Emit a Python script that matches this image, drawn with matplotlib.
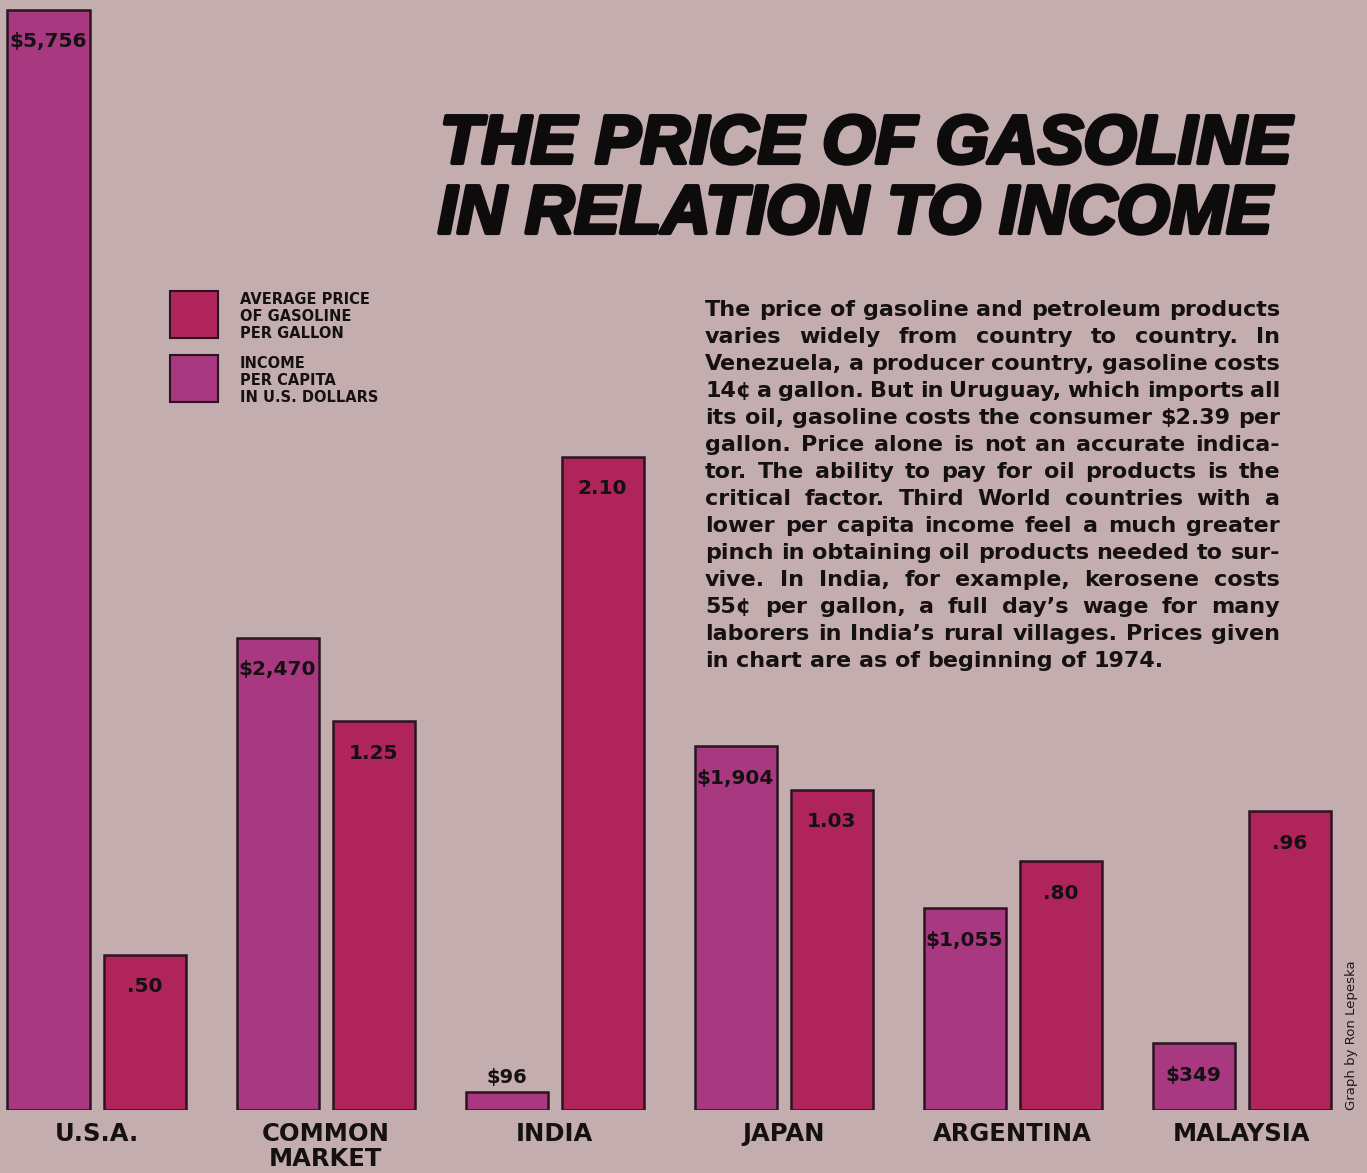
import matplotlib
matplotlib.use('Agg')
import matplotlib.pyplot as plt
import matplotlib.patheffects as pe
from matplotlib.patches import Rectangle

# data
countries = ['U.S.A.', 'COMMON\nMARKET', 'INDIA', 'JAPAN', 'ARGENTINA', 'MALAYSIA']
income = [5756, 2470, 96, 1904, 1055, 349]
income_labels = ['$5,756', '$2,470', '$96', '$1,904', '$1,055', '$349']
price = [0.50, 1.25, 2.10, 1.03, 0.80, 0.96]
price_labels = ['.50', '1.25', '2.10', '1.03', '.80', '.96']

title_lines = ['THE PRICE OF GASOLINE', 'IN RELATION TO INCOME']
legend_price = ['AVERAGE PRICE', 'OF GASOLINE', 'PER GALLON']
legend_income = ['INCOME', 'PER CAPITA', 'IN U.S. DOLLARS']
para = ["The price of gasoline and petroleum products",
        "varies widely from country to country. In",
        "Venezuela, a producer country, gasoline costs",
        "14\u00a2 a gallon. But in Uruguay, which imports all",
        "its oil, gasoline costs the consumer $2.39 per",
        "gallon. Price alone is not an accurate indica-",
        "tor. The ability to pay for oil products is the",
        "critical factor. Third World countries with a",
        "lower per capita income feel a much greater",
        "pinch in obtaining oil products needed to sur-",
        "vive. In India, for example, kerosene costs",
        "55\u00a2 per gallon, a full day\u2019s wage for many",
        "laborers in India\u2019s rural villages. Prices given",
        "in chart are as of beginning of 1974."]
credit = 'Graph by Ron Lepeska'

W, H = 1367, 1173
BG = '#C4ADAF'
C_INC = '#A8387F'
C_PRI = '#B0245C'
EDGE = '#2a1420'

fig = plt.figure(figsize=(W/100, H/100), dpi=100, facecolor=BG)

def fx(x): return x / W
def fy(y): return 1 - y / H

# axes: baseline at y=1110 px, top of figure at 0
base = 1110
ax = fig.add_axes([0, fy(base), 1, base / H])
ax.set_facecolor('none')
ax2 = ax.twinx()
spacing = 229.0
c0 = 96.5
ax.set_xlim(-c0/spacing, (W - c0)/spacing)
inc_ppu = 1100 / 5756.0     # px per dollar of income
pri_ppu = 311.0             # px per dollar of gas price
ax.set_ylim(0, base / inc_ppu)
ax2.set_ylim(0, base / pri_ppu)
ax.axis('off'); ax2.axis('off')

bw = 82 / spacing
off = 48 / spacing
xs = list(range(len(countries)))
ax.bar([x - off for x in xs], income, width=bw, color=C_INC, edgecolor=EDGE, linewidth=1.8)
ax2.bar([x + off for x in xs], price, width=bw, color=C_PRI, edgecolor=EDGE, linewidth=1.8)

for x, v, lab in zip(xs, income, income_labels):
    if v * inc_ppu < 60:
        ax.annotate(lab, (x - off, v), xytext=(0, 14), textcoords='offset pixels',
                    ha='center', va='center', fontsize=14, fontweight='bold', color='#151012')
    else:
        ax.annotate(lab, (x - off, v), xytext=(0, -32), textcoords='offset pixels',
                    ha='center', va='center', fontsize=14.5, fontweight='bold', color='#151012')
for x, v, lab in zip(xs, price, price_labels):
    ax2.annotate(lab, (x + off, v), xytext=(0, -32), textcoords='offset pixels',
                 ha='center', va='center', fontsize=14.5, fontweight='bold', color='#151012')

for x, name in zip(xs, countries):
    fig.text(fx(c0 + x*spacing), fy(1122), name, ha='center', va='top', fontsize=17.5,
             fontweight='bold', color='#151012', linespacing=1.05)

fig.canvas.draw()
r = fig.canvas.get_renderer()

def width_of(s, fs, **kw):
    t = fig.text(0, 0, s, fontsize=fs, fontweight='bold', **kw)
    w = t.get_window_extent(r).width
    t.remove()
    return w

# title, sized to span the same width as the original, thickened with a stroke
tkw = dict(family=['Liberation Sans', 'DejaVu Sans'], style='italic')
tfs = 60 * 852 / width_of(title_lines[0], 60, **tkw)
thick = [pe.withStroke(linewidth=3, foreground='#0d0b0c')]
fig.text(fx(440), fy(163), title_lines[0], fontsize=tfs, fontweight='heavy', ha='left',
         va='baseline', color='#0d0b0c', path_effects=thick, **tkw)
fig.text(fx(438), fy(233), title_lines[1], fontsize=tfs, fontweight='heavy', ha='left',
         va='baseline', color='#0d0b0c', path_effects=thick, **tkw)

# legend
for y0, col, lines in [(291, C_PRI, legend_price), (355, C_INC, legend_income)]:
    fig.patches.append(Rectangle((fx(170), fy(y0 + 47)), 48/W, 47/H, transform=fig.transFigure,
                                 facecolor=col, edgecolor=EDGE, linewidth=1.5))
    for i, t in enumerate(lines):
        fig.text(fx(240), fy(y0 + 13 + 17*i), t, fontsize=10.5, fontweight='bold',
                 ha='left', va='baseline', color='#151012')

# justified paragraph
left, right = 705, 1280
fs = 14.0
fs = fs * (right - left) / width_of(para[0], fs)
for i, line in enumerate(para):
    y = fy(316 + 27*i)
    words = line.split(' ')
    ws = [width_of(w, fs) for w in words]
    if i == len(para) - 1:
        gap = width_of('a b', fs) - width_of('ab', fs)
    else:
        gap = (right - left - sum(ws)) / (len(words) - 1)
    x = left
    for w, wd in zip(words, ws):
        fig.text(fx(x), y, w, fontsize=fs, fontweight='bold', ha='left', va='baseline',
                 color='#151012')
        x += wd + gap

fig.text(fx(1351), fy(1035), credit, rotation=90, fontsize=9.5, ha='center', va='center',
         color='#201518')

fig.savefig('out.png', dpi=100, facecolor=BG)
